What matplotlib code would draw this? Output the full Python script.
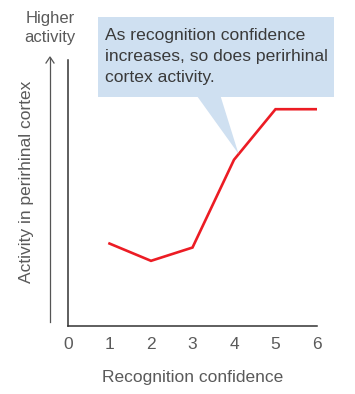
import matplotlib
matplotlib.use("Agg")
import matplotlib.pyplot as plt
from matplotlib.patches import Polygon, Rectangle

plt.rcParams["font.family"] = ["Liberation Sans", "DejaVu Sans"]

confidence = [1, 2, 3, 4, 5, 6]
activity = [3.1, 2.45, 2.95, 6.25, 8.15, 8.15]
x_ticks = [0, 1, 2, 3, 4, 5, 6]
callout_text = "As recognition confidence\nincreases, so does perirhinal\ncortex activity."

W, H = 355, 394
fig = plt.figure(figsize=(W / 100, H / 100), dpi=100)
ax = fig.add_axes([68 / W, (H - 326) / H, (317 - 68) / W, (326 - 60) / H])

ax.plot(confidence, activity, color="#ec1c24", linewidth=1.9, solid_joinstyle="miter")

ax.set_xlim(0, 6)
ax.set_ylim(0, 10)
ax.set_xticks(x_ticks)
ax.set_yticks([])
ax.tick_params(axis="x", length=0, pad=8, labelsize=12.5, labelcolor="#5a5a5a")
for side in ["top", "right"]:
    ax.spines[side].set_visible(False)
for side in ["left", "bottom"]:
    ax.spines[side].set_color("#333333")
    ax.spines[side].set_linewidth(1.1)

ax.set_xlabel("Recognition confidence", fontsize=12.5, color="#5a5a5a", labelpad=13)

# vertical arrow left of the axis
fig.add_artist(plt.Line2D([50 / W, 50 / W], [(H - 322) / H, (H - 58) / H],
                          color="#555555", linewidth=0.9))
fig.add_artist(plt.Line2D([46 / W, 50 / W, 54 / W],
                          [(H - 63) / H, (H - 57) / H, (H - 63) / H],
                          color="#555555", linewidth=0.9))
fig.text(50 / W, (H - 28) / H, "Higher\nactivity", ha="center", va="center",
         fontsize=12, color="#5a5a5a", linespacing=1.3)
fig.text(27 / W, (H - 182) / H, "Activity in perirhinal cortex", rotation=90,
         ha="center", va="center", fontsize=12.5, color="#5a5a5a")

# callout box with pointer
box_color = "#cfe0f1"
ax.add_patch(Rectangle((0.73, 8.6), 6.41 - 0.73, 11.6 - 8.6, facecolor=box_color,
                       edgecolor="none", clip_on=False, zorder=3))
ax.add_patch(Polygon([(3.12, 8.62), (3.68, 8.62), (4.11, 6.47)], closed=True,
                     facecolor=box_color, edgecolor="none", clip_on=False, zorder=3))
ax.text(0.89, 10.12, callout_text, ha="left", va="center", fontsize=12.6,
        color="#3a3a3a", linespacing=1.5, zorder=4)

fig.savefig("out.png", dpi=100)
